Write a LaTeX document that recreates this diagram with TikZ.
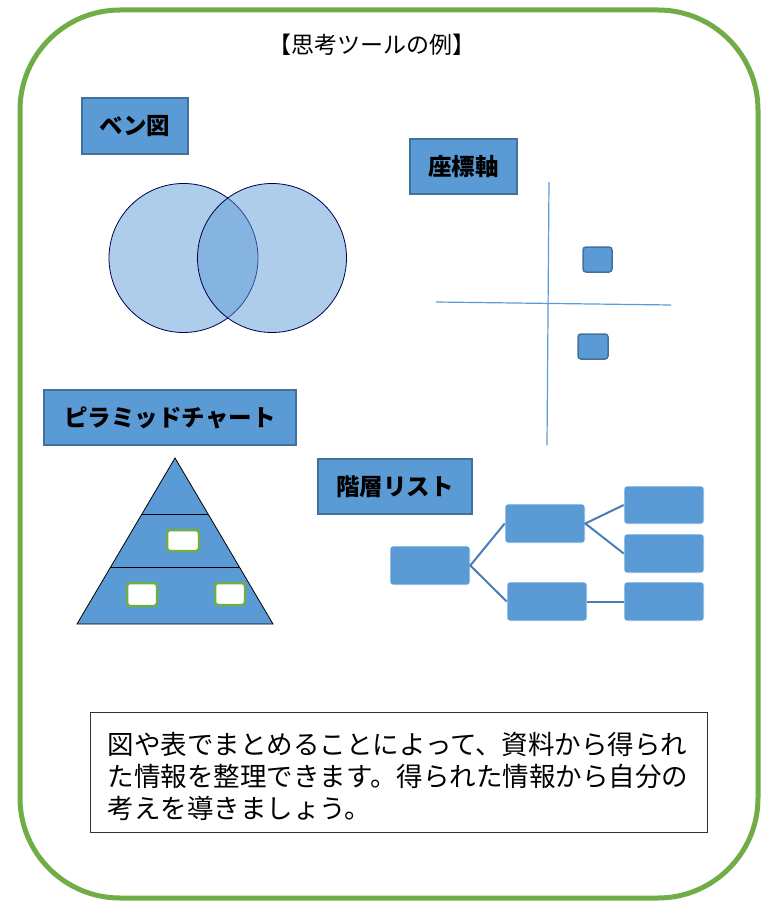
\documentclass[tikz,border=0pt]{standalone}
\usepackage{fontspec}
\newfontfamily\jpfont{Noto Sans CJK JP}
\usetikzlibrary{calc}
\definecolor{boxblue}{HTML}{5B9BD5}
\definecolor{boxedge}{HTML}{41719C}
\definecolor{frame}{HTML}{70AD47}
\definecolor{linkblue}{HTML}{4A7EB5}
\tikzset{
  labelbox/.style={draw=boxedge, line width=2pt, fill=boxblue, inner sep=0pt,
    font=\jpfont\bfseries\fontsize{23.5}{26}\selectfont},
  venn/.style={circle, draw=black!70!blue, line width=0.8pt, fill=boxblue, fill opacity=0.5, text opacity=1, minimum size=149pt, inner sep=0pt},
  axisline/.style={draw=boxblue, line width=1.2pt},
  dot/.style={draw=boxedge, line width=1.5pt, fill=boxblue, rounded corners=3pt, inner sep=0pt},
  greenbox/.style={draw=frame, line width=2.5pt, fill=white, rounded corners=3pt, inner sep=0pt},
  listbox/.style={draw=white, line width=0.6pt, fill=boxblue, rounded corners=3pt, inner sep=0pt, minimum width=80pt},
  link/.style={draw=linkblue, line width=2pt},
}
\begin{document}
\begin{tikzpicture}[x=1pt,y=-1pt]
\useasboundingbox (0,0) rectangle (780,904);
% outer frame
\draw[frame, line width=5pt, rounded corners=100pt] (20,10) rectangle (758,898);
% title
\node[font=\jpfont\fontsize{23}{26}\selectfont] (title) at (372,45) {【思考ツールの例】};
% Venn
\node[labelbox, minimum width=106pt, minimum height=56pt] (venntitle) at (135,126) {ベン図};
\node[venn] (vl) at (183.5,258) {};
\node[venn] (vr) at (272,258) {};
% axes
\node[labelbox, minimum width=107pt, minimum height=55pt] (axtitle) at (463.5,166.5) {座標軸};
\coordinate (vtop) at (549,182);
\coordinate (vbot) at (547,445);
\coordinate (hl) at (436,302);
\coordinate (hr) at (671,305);
\draw[axisline] (vtop) -- (vbot);
\draw[axisline] (hl) -- (hr);
\node[dot, minimum width=29pt, minimum height=25pt] (d1) at (597.5,259.5) {};
\node[dot, minimum width=30pt, minimum height=25pt] (d2) at (593,346.5) {};
% pyramid
\node[labelbox, minimum width=252pt, minimum height=55pt] (pytitle) at (170,417.5) {ピラミッドチャート};
\draw[fill=boxblue, draw=black, line width=0.8pt] (175,458) -- (273,624) -- (77,624) -- cycle;
\draw[black, line width=0.8pt] (142,514) -- (208,514);
\draw[black, line width=0.8pt] (110.7,567) -- (239.3,567);
\node[greenbox, minimum width=32pt, minimum height=21pt] (p1) at (183,540.5) {};
\node[greenbox, minimum width=30pt, minimum height=23pt] (p2) at (142,594.5) {};
\node[greenbox, minimum width=30pt, minimum height=22pt] (p3) at (230,594) {};
% hierarchy
\node[labelbox, minimum width=154pt, minimum height=55pt] (hititle) at (395,486.5) {階層リスト};
\node[listbox, minimum height=39pt] (r) at (430,565.5) {};
\node[listbox, minimum height=39pt] (a) at (545,523.5) {};
\node[listbox, minimum height=39pt] (b) at (547,601.5) {};
\node[listbox, minimum height=38pt] (c) at (664,505) {};
\node[listbox, minimum height=39pt] (d) at (664,553.5) {};
\node[listbox, minimum height=39pt] (e) at (664,601.5) {};
\draw[link] (a.west) -- (r.east) -- (b.west);
\draw[link] (c.west) -- (a.east) -- (d.west);
\draw[link] (b.east) -- (e.west);
% text box
\node[draw=black!80, line width=0.8pt, minimum width=617pt, minimum height=120pt, inner sep=0pt] (notebox) at (398.5,772) {};
\node[anchor=west, inner sep=0pt, align=left, font=\jpfont\fontsize{26.5}{32}\selectfont] (note) at ($(notebox.west)+(18,4)$)
  {図や表でまとめることによって、資料から得られ\\た情報を整理できます。得られた情報から自分の\\考えを導きましょう。};
\end{tikzpicture}
\end{document}
